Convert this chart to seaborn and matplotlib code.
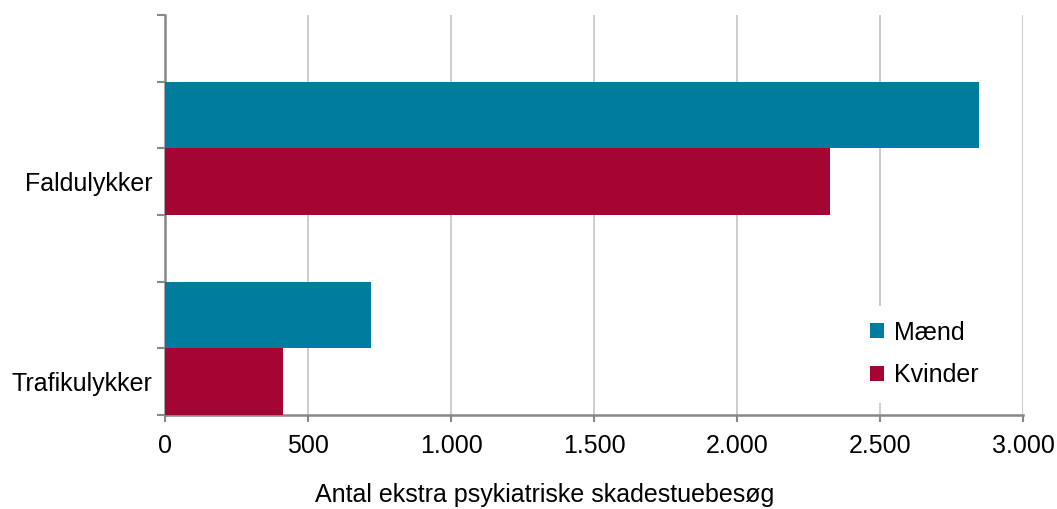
import matplotlib
matplotlib.use("Agg")
import matplotlib.pyplot as plt
import matplotlib.ticker as mticker
import seaborn as sns
import pandas as pd

categories = ["Faldulykker", "Trafikulykker"]
series = ["Mænd", "Kvinder"]
maend = [2846, 721]
kvinder = [2324, 413]
xticks = [0, 500, 1000, 1500, 2000, 2500, 3000]
xlabel = "Antal ekstra psykiatriske skadestuebesøg"

df = pd.DataFrame({
    "kategori": categories * 2,
    "køn": [series[0]] * 2 + [series[1]] * 2,
    "værdi": maend + kvinder,
})

sns.set_theme(style="white")
plt.rcParams["font.family"] = ["Liberation Sans", "DejaVu Sans"]
plt.rcParams["text.color"] = "black"
plt.rcParams["xtick.color"] = "black"
plt.rcParams["ytick.color"] = "black"
plt.rcParams["axes.labelcolor"] = "black"

FS = 18

fig = plt.figure(figsize=(10.57, 5.09), dpi=100)
ax = fig.add_axes([165 / 1057, 1 - 415 / 509, (1023 - 165) / 1057, 400 / 509])

palette = {"Mænd": "#007C9E", "Kvinder": "#A50533"}
sns.barplot(data=df, y="kategori", x="værdi", hue="køn", order=categories,
            hue_order=series, palette=palette, orient="h", width=2 / 3,
            saturation=1, ax=ax, legend=True, zorder=3)
for p in ax.patches:
    p.set_edgecolor("none")

ax.set_xlim(0, 3000)
ax.set_ylim(4 / 3, -2 / 3)
ax.set_xticks(xticks)
ax.xaxis.set_major_formatter(mticker.FuncFormatter(lambda v, p: f"{int(v):,}".replace(",", ".")))
ax.tick_params(axis="x", which="major", length=5, width=1.5, color="#888888",
               labelcolor="black", labelsize=FS, pad=9, bottom=True)
ax.set_yticks([1 / 6, 7 / 6])
ax.set_yticklabels(categories)
ax.tick_params(axis="y", which="major", length=0, labelsize=FS, labelcolor="black", pad=9)
ax.set_yticks([-2 / 3 + k / 3 for k in range(7)], minor=True)
ax.tick_params(axis="y", which="minor", length=6, width=1.5, color="#888888", left=True)

ax.grid(axis="x", color="#c8c8c8", linewidth=1.3, zorder=0)
ax.set_axisbelow(True)
for s in ["top", "right"]:
    ax.spines[s].set_visible(False)
for s in ["left", "bottom"]:
    ax.spines[s].set_color("#888888")
    ax.spines[s].set_linewidth(1.8)

ax.set_xlabel(xlabel, fontsize=FS, labelpad=20, color="black")
ax.xaxis.set_label_coords(0.443, -0.17)
ax.set_ylabel("")

leg = ax.legend(loc="lower right", bbox_to_anchor=(0.98, 0.0), frameon=True,
                fontsize=FS, handlelength=0.55, handleheight=0.55, handletextpad=0.4,
                labelspacing=0.75, borderpad=0.6, facecolor="white", edgecolor="none",
                framealpha=1)
for t in leg.get_texts():
    t.set_color("black")

fig.savefig("out.png", dpi=100)
